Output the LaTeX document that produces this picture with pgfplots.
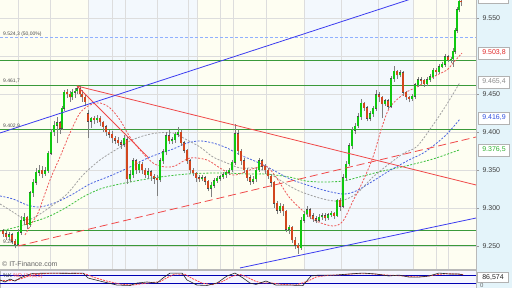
\documentclass[border=0pt]{standalone}
\usepackage{pgfplots}
\pgfplotsset{compat=1.18}
\usepackage{pgfplotstable}
\usepackage{fontspec}
\setmainfont{Liberation Sans}
\definecolor{cream}{HTML}{FEFEF2}
\definecolor{lblue}{HTML}{F3F8FD}
\definecolor{rpanel}{HTML}{E4F4FA}
\definecolor{gridc}{HTML}{DDDDDD}
\definecolor{bull}{HTML}{10C810}
\definecolor{bear}{HTML}{D2461E}
\definecolor{wick}{HTML}{808080}
\definecolor{hgreen}{HTML}{3A9A3A}
\definecolor{maRed}{HTML}{EE5A5A}
\definecolor{maGray}{HTML}{A0A0A0}
\definecolor{maBlue}{HTML}{4A64E0}
\definecolor{maGreen}{HTML}{3CC03C}
\definecolor{trBlue}{HTML}{3C3CF0}
\definecolor{trRed}{HTML}{F04848}
\definecolor{tagRed}{HTML}{E02828}
\definecolor{tagGray}{HTML}{8C8C8C}
\definecolor{tagBlue}{HTML}{3050E0}
\definecolor{tagGreen}{HTML}{30B030}
\definecolor{fibo}{HTML}{8FB0FF}

\pgfplotstableread{
x o h l c
3 9270 9273 9262 9266
6 9266 9270 9258 9262
9 9262 9268 9258 9265
12 9265 9267 9252 9256
15 9256 9259 9247 9252
18 9252 9272 9250 9268
21 9268 9290 9265 9284
24 9284 9293 9278 9288
27 9288 9290 9272 9278
30 9278 9322 9275 9320
33 9320 9338 9315 9334
36 9334 9352 9330 9347
39 9347 9356 9342 9350
42 9350 9355 9340 9345
45 9345 9354 9342 9349
48 9349 9375 9346 9372
51 9372 9404 9370 9400
54 9400 9414 9395 9409
57 9409 9420 9385 9412
60 9412 9415 9398 9405
62 9405 9434 9402 9431
64 9431 9455 9428 9452
67 9452 9457 9445 9450
70 9450 9454 9440 9446
72 9446 9456 9442 9452
75 9452 9458 9445 9454
77 9454 9461 9450 9457
80 9457 9460 9446 9450
82 9450 9455 9440 9446
85 9446 9449 9434 9440
88 9424 9429 9392 9414
91 9414 9420 9405 9418
94 9418 9421 9410 9416
97 9416 9422 9412 9418
100 9418 9421 9408 9413
103 9413 9415 9400 9407
106 9407 9409 9395 9400
109 9400 9403 9392 9397
112 9397 9401 9386 9392
115 9392 9395 9384 9389
118 9389 9393 9382 9386
121 9386 9389 9378 9384
124 9384 9396 9380 9392
127 9390 9394 9332 9338
130 9338 9350 9334 9344
133 9344 9366 9340 9362
136 9362 9365 9345 9350
139 9350 9362 9346 9358
142 9358 9360 9345 9350
145 9350 9353 9340 9344
148 9344 9352 9338 9348
151 9348 9350 9336 9342
154 9342 9345 9332 9339
157 9339 9343 9316 9337
160 9337 9366 9334 9362
163 9362 9378 9358 9374
166 9374 9400 9370 9395
169 9395 9402 9384 9388
172 9388 9394 9384 9390
175 9390 9400 9386 9397
178 9397 9406 9393 9400
181 9400 9402 9382 9386
184 9386 9388 9372 9376
187 9376 9378 9358 9362
190 9362 9365 9346 9350
193 9350 9353 9342 9346
196 9346 9348 9334 9340
199 9340 9343 9334 9338
202 9338 9344 9335 9340
205 9340 9342 9330 9335
208 9335 9337 9322 9326
211 9326 9334 9314 9330
214 9330 9340 9326 9336
217 9336 9342 9333 9339
220 9339 9344 9336 9341
223 9341 9347 9338 9344
226 9344 9350 9340 9347
229 9347 9353 9343 9350
232 9350 9363 9347 9360
235 9360 9410 9357 9398
238 9398 9402 9370 9375
241 9375 9378 9356 9362
244 9362 9366 9346 9350
247 9350 9352 9335 9340
250 9340 9343 9330 9335
253 9335 9342 9332 9338
256 9338 9353 9334 9350
259 9350 9366 9348 9362
262 9362 9365 9350 9355
265 9355 9358 9345 9350
268 9350 9352 9338 9342
271 9342 9345 9328 9334
274 9334 9336 9300 9306
277 9306 9309 9292 9297
280 9297 9306 9294 9302
283 9302 9305 9290 9296
286 9296 9298 9268 9272
289 9272 9278 9266 9275
292 9275 9276 9254 9258
295 9258 9262 9246 9251
298 9251 9254 9240 9248
301 9248 9288 9245 9284
304 9284 9296 9280 9292
307 9292 9303 9288 9298
310 9298 9300 9285 9290
313 9290 9293 9282 9286
316 9286 9290 9280 9284
319 9284 9292 9281 9288
322 9288 9294 9284 9290
325 9290 9294 9283 9287
328 9287 9294 9284 9291
331 9291 9296 9288 9293
334 9293 9295 9286 9290
337 9290 9312 9288 9310
340 9310 9313 9296 9302
343 9302 9345 9300 9340
346 9340 9362 9336 9358
349 9358 9386 9355 9382
352 9382 9406 9378 9402
355 9402 9412 9398 9408
358 9408 9425 9405 9420
361 9420 9444 9416 9438
364 9438 9440 9428 9432
367 9432 9434 9414 9418
370 9418 9428 9414 9424
373 9424 9434 9420 9431
376 9431 9455 9428 9449
379 9449 9452 9440 9446
382 9446 9448 9418 9437
385 9437 9444 9434 9441
388 9441 9443 9430 9434
391 9434 9474 9432 9470
394 9470 9487 9466 9480
397 9480 9482 9470 9475
400 9475 9481 9472 9478
403 9478 9480 9448 9452
406 9452 9454 9442 9446
409 9446 9448 9439 9444
412 9444 9450 9441 9447
415 9447 9465 9444 9462
418 9462 9472 9459 9469
421 9469 9473 9463 9468
424 9468 9470 9459 9463
427 9463 9472 9460 9469
430 9469 9476 9466 9473
433 9473 9484 9470 9481
436 9481 9484 9475 9479
439 9479 9489 9476 9486
442 9486 9492 9484 9489
445 9489 9502 9486 9499
448 9499 9501 9492 9495
451 9495 9499 9491 9496
453 9496 9510 9486 9506
455 9506 9537 9503 9534
457 9534 9564 9530 9561
459 9561 9576 9558 9572
461 9572 9578 9566 9571
}\candles

\begin{document}
\begin{tikzpicture}
\useasboundingbox (0,0) rectangle (512pt,288pt);
\fill[rpanel] (476pt,0pt) rectangle (512pt,288pt);
\begin{axis}[
  at={(0pt,19pt)}, anchor=south west,
  scale only axis, width=476pt, height=269pt,
  xmin=0, xmax=476, ymin=9219.74, ymax=9573.68,
  xtick=\empty,
  ytick={9250,9300,9350,9400,9450,9550},
  yticklabels={9.250,9.300,9.350,9.400,9.450,9.550},
  ytick pos=right, yticklabel pos=right,
  tick align=outside, major tick length=3pt,
  ytick style={draw=gray!80, line width=0.4pt},
  yticklabel style={font=\fontsize{7}{8}\selectfont, text=black!75},
  axis line style={gray!55, line width=0.5pt},
  clip=true,
  candle/.style={draw=none, no marks, forget plot},
]
% background bands
\fill[cream] (axis cs:0,9219.74) rectangle (axis cs:88,9573.68);
\fill[lblue] (axis cs:88,9219.74) rectangle (axis cs:197,9573.68);
\fill[cream] (axis cs:197,9219.74) rectangle (axis cs:304,9573.68);
\fill[lblue] (axis cs:304,9219.74) rectangle (axis cs:413,9573.68);
\fill[cream] (axis cs:413,9219.74) rectangle (axis cs:476,9573.68);
% grid
\pgfplotsinvokeforeach{18,50,88,112,125,157,188,197,220,233,266,304,341,378,413,436,448}{
  \draw[gridc, line width=0.5pt] (axis cs:#1,9219.74) -- (axis cs:#1,9573.68);
}
\pgfplotsinvokeforeach{9250,9300,9350,9400,9450,9500,9550}{
  \draw[gridc, line width=0.5pt] (axis cs:0,#1) -- (axis cs:476,#1);
}

% horizontal levels
\addplot[fibo, line width=0.7pt, dash pattern=on 3pt off 2pt, forget plot] coordinates {(0,9524.3) (476,9524.3)};
\addplot[hgreen, line width=0.8pt, forget plot] coordinates {(0,9494.5) (476,9494.5)};
\addplot[hgreen, line width=0.8pt, forget plot] coordinates {(0,9461.7) (476,9461.7)};
\addplot[hgreen, line width=0.8pt, forget plot] coordinates {(0,9402.9) (476,9402.9)};
\addplot[hgreen, line width=0.8pt, forget plot] coordinates {(0,9270) (476,9270)};
\addplot[hgreen, line width=0.8pt, forget plot] coordinates {(0,9251) (476,9251)};

% moving averages
\addplot[maGreen, line width=0.8pt, dash pattern=on 2pt off 1.5pt, smooth, forget plot] coordinates {
(0,9269.7) (17,9275.0) (33,9281.6) (50,9289.5) (67,9301.3) (83,9314.5) (100,9325.0) (120,9331.6) (153,9339.5) (187,9344.7) (220,9346.1) (250,9344.7) (266,9344.7) (289,9340.8) (306,9335.5) (323,9334.2) (343,9335.5) (363,9342.1) (383,9348.7) (406,9355.3) (433,9364.5) (459,9376.3)};
\addplot[maBlue, line width=0.8pt, dash pattern=on 2pt off 1.5pt, smooth, forget plot] coordinates {
(0,9315.8) (13,9311.9) (27,9304.0) (40,9301.3) (57,9307.9) (73,9318.4) (90,9331.6) (110,9342.1) (130,9354.0) (150,9367.1) (173,9377.6) (187,9385.5) (200,9388.2) (213,9385.5) (227,9379.0) (240,9369.8) (257,9360.5) (273,9350.0) (290,9338.2) (307,9330.3) (323,9323.7) (343,9318.4) (356,9322.4) (373,9335.5) (389,9348.7) (409,9363.2) (425,9373.7) (445,9394.8) (460,9417.1)};
\addplot[maGray, line width=0.8pt, dash pattern=on 2pt off 1.5pt, smooth, forget plot] coordinates {
(0,9305.3) (13,9294.7) (27,9284.2) (40,9292.1) (50,9301.3) (67,9318.4) (83,9343.4) (100,9363.2) (117,9377.6) (130,9388.2) (143,9394.8) (157,9398.7) (173,9398.7) (187,9389.5) (200,9380.3) (213,9367.1) (227,9359.2) (240,9352.6) (255,9352.6) (267,9347.4) (283,9334.2) (299,9322.4) (323,9311.9) (340,9309.2) (356,9318.4) (373,9340.8) (389,9357.9) (404,9372.4) (417,9381.0) (433,9409.2) (447,9436.9) (460,9465.4)};
\addplot[maRed, line width=0.8pt, dash pattern=on 2pt off 1.5pt, smooth, forget plot] coordinates {
(25,9264.5) (33,9282.9) (38,9293.4) (50,9336.9) (60,9367.1) (70,9398.7) (80,9425.0) (90,9435.5) (100,9438.2) (110,9431.6) (120,9415.8) (130,9393.4) (140,9376.3) (153,9359.2) (165,9354.0) (175,9355.3) (190,9365.8) (207,9363.2) (220,9352.6) (233,9343.4) (245,9347.4) (255,9352.6) (266,9355.3) (276,9340.8) (289,9314.5) (303,9296.1) (316,9282.9) (333,9276.3) (343,9282.9) (353,9309.2) (363,9335.5) (373,9367.1) (382,9406.6) (390,9432.9) (405,9451.3) (417,9459.2) (433,9472.4) (447,9481.6) (453,9490.8) (462,9503.8)};

% candles: wicks
\addplot[candle,
  error bars/.cd, y dir=plus, y explicit, error mark=none,
  error bar style={line width=0.6pt, draw=wick}]
  table[x=x, y=l, y error expr=\thisrow{h}-\thisrow{l}] {\candles};
% body outlines
\addplot[candle,
  error bars/.cd, y dir=plus, y explicit, error mark=none,
  error bar style={line width=2.3pt, draw=black!70}]
  table[x=x, y expr={min(\thisrow{o},\thisrow{c})-0.5}, y error expr={abs(\thisrow{c}-\thisrow{o})+1.0}] {\candles};
% bull bodies
\addplot[candle,
  restrict expr to domain={\thisrow{c}-\thisrow{o}}{0:1000},
  error bars/.cd, y dir=plus, y explicit, error mark=none,
  error bar style={line width=1.7pt, draw=bull}]
  table[x=x, y=o, y error expr=\thisrow{c}-\thisrow{o}] {\candles};
% bear bodies
\addplot[candle,
  restrict expr to domain={\thisrow{o}-\thisrow{c}}{0.5:1000},
  error bars/.cd, y dir=plus, y explicit, error mark=none,
  error bar style={line width=1.7pt, draw=bear}]
  table[x=x, y=c, y error expr=\thisrow{o}-\thisrow{c}] {\candles};

% trend lines
\addplot[trRed, line width=0.8pt, dash pattern=on 8pt off 4pt, forget plot] coordinates {(18,9250) (476,9393.4)};
\addplot[trRed, line width=0.8pt, forget plot] coordinates {(77,9460.5) (476,9330.3)};
\addplot[trRed, line width=0.8pt, forget plot] coordinates {(77,9460.5) (148,9367.0)};
\addplot[trBlue, line width=0.8pt, forget plot] coordinates {(0,9398.7) (476,9602.9)};
\addplot[trBlue, line width=0.8pt, forget plot] coordinates {(240,9221.1) (476,9286.8)};
\end{axis}

% oscillator panel
\begin{axis}[
  at={(0pt,0pt)}, anchor=south west,
  scale only axis, width=476pt, height=18pt,
  xmin=0, xmax=476, ymin=-17, ymax=118,
  xtick=\empty, ytick=\empty,
  axis line style={gray!55, line width=0.5pt},
  axis background/.style={fill=white!96!blue},
  clip=true,
]
\addplot[blue!70!black, line width=0.6pt, forget plot] coordinates {(0,80) (476,80)};
\addplot[blue!70!black, line width=0.6pt, forget plot] coordinates {(0,20) (476,20)};
\addplot[red!70, line width=0.8pt, dash pattern=on 2pt off 1pt, forget plot] coordinates {
(0,40) (8,38) (15,40) (22,55) (30,75) (38,88) (50,93) (70,94) (85,90) (93,65) (105,38) (120,12) (133,5) (142,15) (152,24) (160,30) (167,60) (175,88) (185,85) (192,55) (202,20) (212,8) (222,30) (232,70) (240,85) (247,65) (255,35) (262,20) (270,22) (282,10) (296,5) (308,35) (316,65) (328,78) (342,82) (356,90) (370,90) (383,82) (395,77) (405,72) (415,67) (425,68) (436,82) (446,90) (456,88) (463,84)};
\addplot[black!85, line width=0.6pt, forget plot] coordinates {
(0,43) (5,28) (10,50) (15,35) (20,58) (27,80) (33,92) (50,95) (70,93) (83,95) (88,58) (100,35) (117,5) (130,2) (137,20) (147,28) (157,20) (163,58) (170,95) (182,95) (187,43) (197,5) (207,2) (217,20) (227,73) (235,95) (243,58) (250,20) (256,10) (266,35) (276,5) (289,5) (303,2) (311,73) (319,80) (336,80) (349,88) (363,95) (376,88) (389,73) (399,80) (409,65) (419,65) (429,73) (439,95) (449,88) (459,88) (463,80)};
\end{axis}

% left labels
\node[anchor=south west, inner sep=0pt, font=\fontsize{5}{6}\selectfont, text=black!70] at (3pt,251pt) {9.524,3 (50,00\%)};
\node[anchor=south west, inner sep=0pt, font=\fontsize{5}{6}\selectfont, text=black!70] at (3pt,205pt) {9.461,7};
\node[anchor=south west, inner sep=0pt, font=\fontsize{5}{6}\selectfont, text=black!70] at (3pt,160pt) {9.402,9};
\node[anchor=south west, inner sep=0pt, font=\fontsize{5}{6}\selectfont, text=black!70] at (3pt,44pt) {9.25};
\node[anchor=south west, inner sep=0pt, font=\fontsize{7}{8}\selectfont, text=black!60] at (2pt,21.5pt) {© IT-Finance.com};
\node[anchor=south west, inner sep=0pt, font=\fontsize{5.5}{6}\selectfont] at (3pt,9pt) {\textcolor{black!80}{\%K} \textcolor{red!70}{\%D (14,3,5)}};

% right tags
\tikzset{tag/.style={draw=gray!60, fill=white, inner sep=0pt, minimum width=31pt, minimum height=12pt, font=\fontsize{7}{8}\selectfont}}
\draw[gray!60, fill=white] (478pt,285pt) rectangle (508pt,300pt);
\node[tag, text=tagRed] at (494pt,235pt) {9.503,8};
\node[tag, text=tagGray] at (494pt,206pt) {9.465,4};
\node[tag, text=tagBlue] at (494pt,170pt) {9.416,9};
\node[tag, text=tagGreen] at (494pt,138pt) {9.376,5};
\node[tag, text=black!85, minimum height=10pt] at (493pt,10.5pt) {86,574};
\node[anchor=north west, inner sep=0pt, font=\fontsize{6}{7}\selectfont, text=black!60] at (480pt,4.5pt) {0};
\end{tikzpicture}
\end{document}
